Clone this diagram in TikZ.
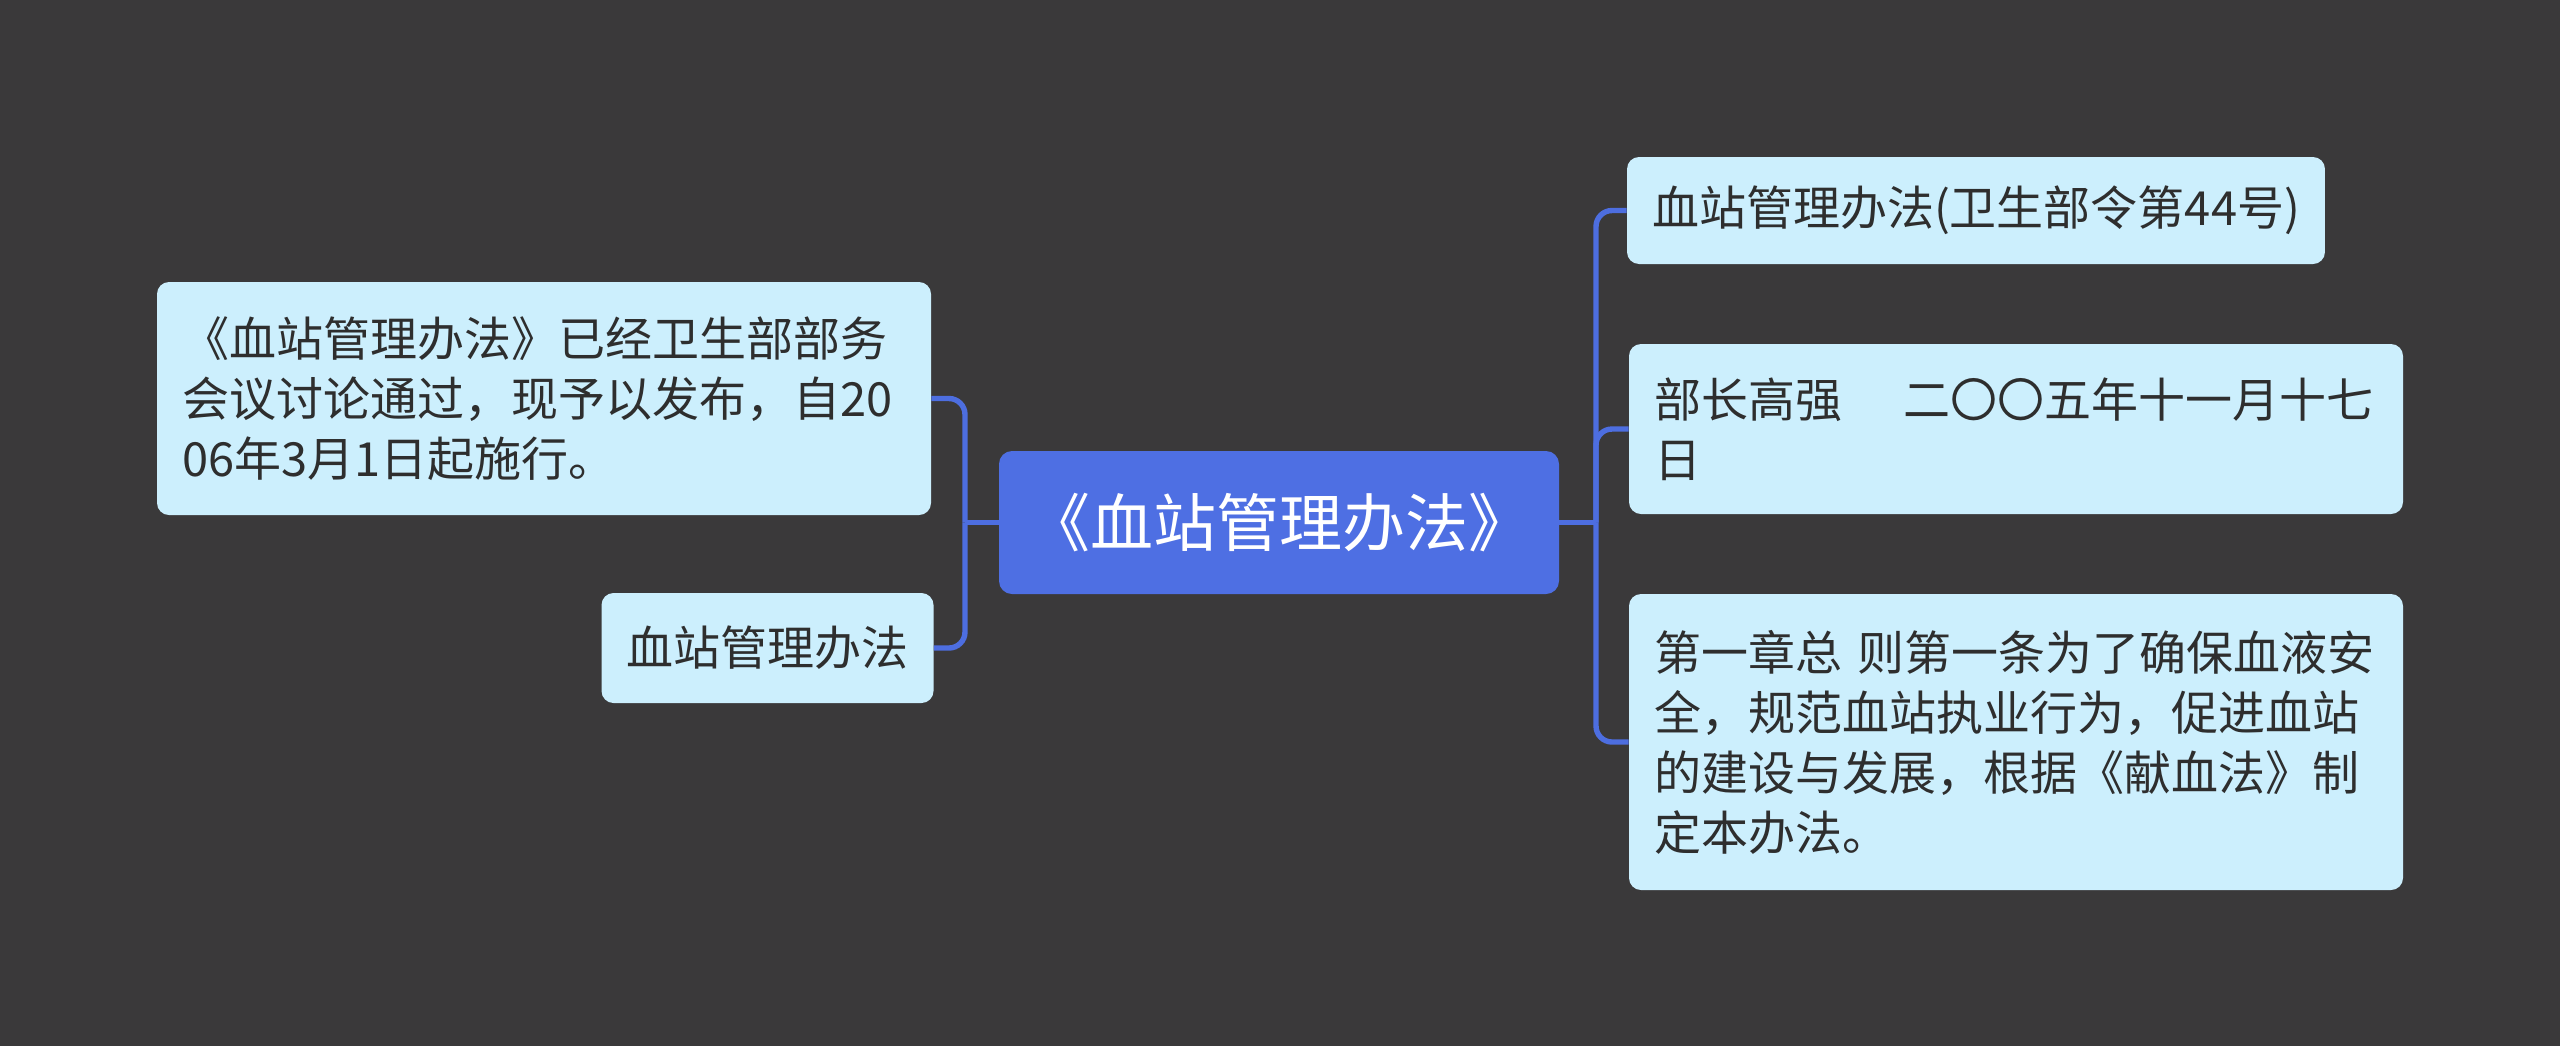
\documentclass[tikz,border=0pt]{standalone}
\usepackage{fontspec}
\setmainfont{Noto Sans CJK SC}
\definecolor{bgc}{HTML}{3A393A}
\definecolor{leaffill}{HTML}{CCEFFD}
\definecolor{rootfill}{HTML}{4E6FE3}
\definecolor{linec}{HTML}{4D6EE0}
\definecolor{textc}{HTML}{2E2E2E}
\tikzset{
  leaf/.style={draw=none, fill=leaffill, rounded corners=6pt, text=textc,
    font=\fontsize{23.5pt}{30pt}\selectfont, inner xsep=12.5pt, inner ysep=0pt},
  leafpar/.style={leaf, align=left},
  rootbox/.style={draw=none, fill=rootfill, rounded corners=6.5pt, text=white,
    font=\fontsize{31.5pt}{36pt}\selectfont, inner sep=0pt},
  conn/.style={draw=linec, line width=2.7pt, rounded corners=8pt}
}
\begin{document}
\begin{tikzpicture}[x=0.5pt,y=-0.5pt]
\fill[bgc] (0,0) rectangle (2560,1046);
\useasboundingbox (0,0) rectangle (2560,1046);

\node[rootbox, minimum width=280pt, minimum height=71.5pt] (c) at (1279,522.5) {《血站管理办法》};

\node[leafpar, text width=362pt, minimum height=116.5pt] (l1) at (544,398.5)
  {《血站管理办法》已经卫生部部务\\会议讨论通过，现予以发布，自20\\06年3月1日起施行。};
\node[leaf, minimum width=163.5pt, minimum height=55pt] (l2) at (767.5,648) {血站管理办法};

\node[leaf, minimum width=347pt, minimum height=53.5pt] (r1) at (1976,210.5) {血站管理办法(卫生部令第44号)};
\node[leafpar, text width=362pt, minimum height=85pt] (r2) at (2016,429)
  {部长高强\hspace{1.3em}二〇〇五年十一月十七\\日};
\node[leafpar, text width=362pt, minimum height=148pt] (r3) at (2016,742)
  {第一章总 则第一条为了确保血液安\\全，规范血站执业行为，促进血站\\的建设与发展，根据《献血法》制\\定本办法。};

\coordinate (jl) at (965,522.5);
\coordinate (jr) at (1596,522.5);

\draw[conn] (c.west) -- (jl);
\draw[conn] (jl) |- (l1.east);
\draw[conn] (jl) |- (l2.east);

\draw[conn] (c.east) -- (jr);
\draw[conn] (jr) |- (r1.west);
\draw[conn] (jr) |- (r2.west);
\draw[conn] (jr) |- (r3.west);
\end{tikzpicture}
\end{document}
